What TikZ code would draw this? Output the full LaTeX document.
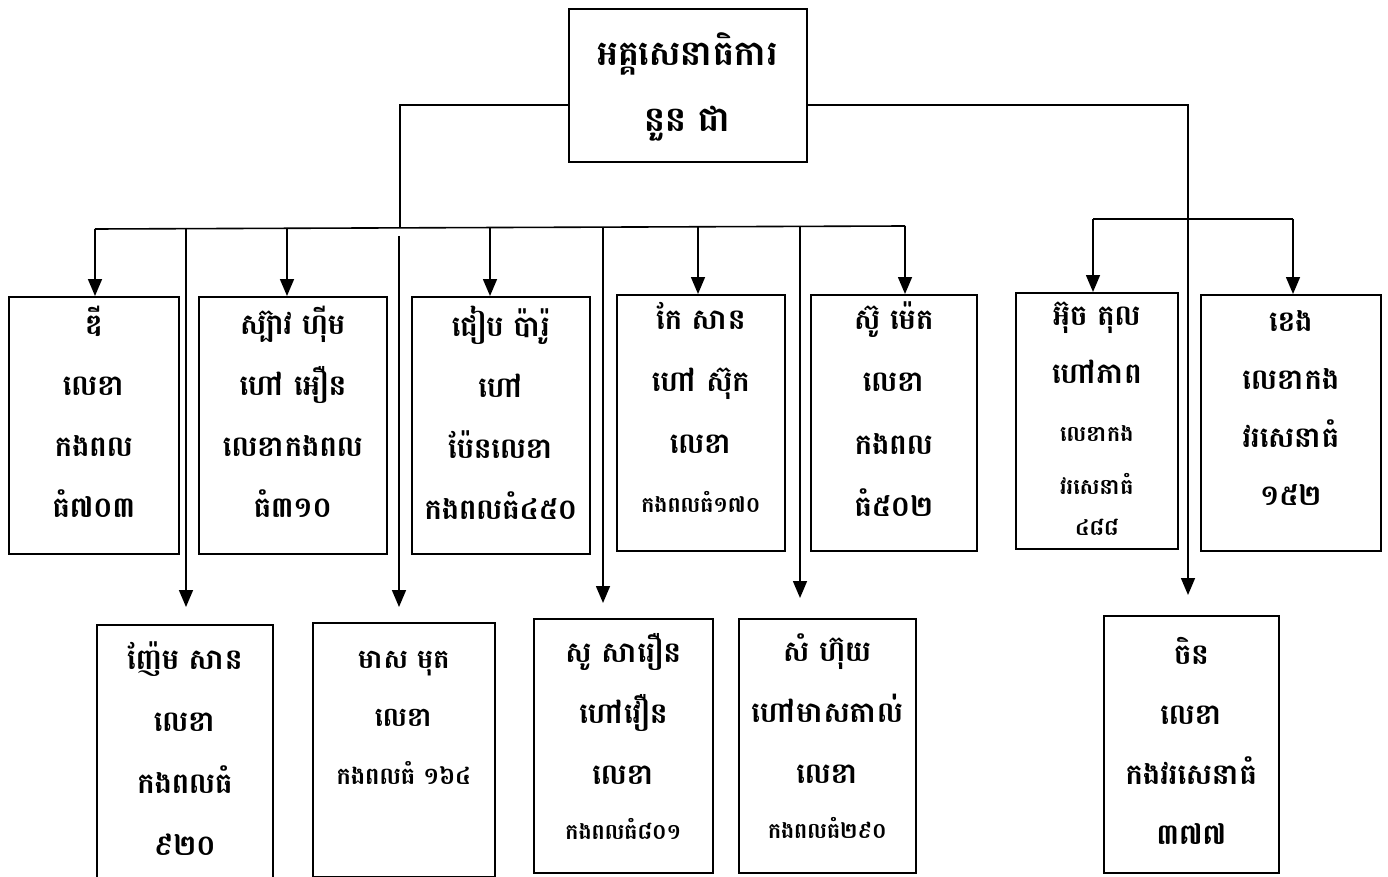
\documentclass[tikz,border=0pt]{standalone}
\usepackage{fontspec}
\newfontfamily\kh[Script=Khmer, BoldFont={Battambang Bold}]{Battambang}
\usetikzlibrary{arrows.meta}
\tikzset{
  x=1pt, y=1pt,
  box/.style={draw, line width=1.6pt, anchor=north west, inner sep=0pt},
  txt/.style={font=\kh\bfseries\fontsize{29}{61}\selectfont, align=center, inner sep=0pt, anchor=north},
  bigtxt/.style={font=\kh\bfseries\fontsize{35}{66}\selectfont, align=center, inner sep=0pt, anchor=north},
  ln/.style={line width=1.6pt},
  arr/.style={line width=1.6pt, -{Triangle[width=14pt,length=17pt]}},
}
\newcommand{\smk}{\fontsize{22}{61}\selectfont}
\begin{document}
\begin{tikzpicture}
\useasboundingbox (0,0) rectangle (1388,-877);
\fill[white] (0,0) rectangle (1388,-877);
% top
\node[box, minimum width=238pt, minimum height=153pt] (top) at (568,-8) {};
\node[bigtxt] (toptxt) at ([yshift=-25pt]top.north) {អគ្គសេនាធិការ\\នួន ជា};
% upper row
\node[box, minimum width=170pt, minimum height=257pt] (b1) at (8,-296) {};
\node[box, minimum width=188pt, minimum height=257pt] (b2) at (198,-296) {};
\node[box, minimum width=178pt, minimum height=257pt] (b3) at (411,-296) {};
\node[box, minimum width=168pt, minimum height=256pt] (b4) at (616,-294) {};
\node[box, minimum width=166pt, minimum height=256pt] (b5) at (810,-294) {};
\node[box, minimum width=162pt, minimum height=256pt] (b6) at (1015,-292) {};
\node[box, minimum width=180pt, minimum height=256pt] (b7) at (1200,-294) {};
% lower row
\node[box, minimum width=176pt, minimum height=253pt] (l1) at (96,-624) {};
\node[box, minimum width=182pt, minimum height=254pt] (l2) at (312,-622) {};
\node[box, minimum width=179pt, minimum height=254pt] (l3) at (533,-618) {};
\node[box, minimum width=177pt, minimum height=254pt] (l4) at (738,-618) {};
\node[box, minimum width=175pt, minimum height=257pt] (l5) at (1103,-615) {};
% texts
\node[txt] (t1) at ([yshift=-10pt]b1.north) {ឌី\\លេខា\\កងពល\\ធំ៧០៣};
\node[txt] (t2) at ([yshift=-10pt]b2.north) {ស្ប៊ាវ ហ៊ីម\\ហៅ អឿន\\លេខាកងពល\\ធំ៣១០};
\node[txt] (t3) at ([yshift=-10pt]b3.north) {ជៀប ប៉ារ៉ូ\\ហៅ\\ប៉ែនលេខា\\កងពលធំ៤៥០};
\node[txt, font=\kh\bfseries\fontsize{29}{62}\selectfont] (t4) at ([yshift=-8pt]b4.north) {កែ សាន\\ហៅ ស៊ុក\\លេខា\\[-3pt]{\smk កងពលធំ១៧០}};
\node[txt, font=\kh\bfseries\fontsize{29}{62}\selectfont] (t5) at ([yshift=-8pt]b5.north) {ស៊ូ ម៉េត\\លេខា\\កងពល\\ធំ៥០២};
\node[txt, font=\kh\bfseries\fontsize{29}{58}\selectfont] (t6) at ([yshift=-10pt]b6.north) {អ៊ុច តុល\\ហៅភាព\\{\smk លេខាកង}\\[-5pt]{\smk វរសេនាធំ}\\[-17pt]{\smk ៤៨៨}};
\node[txt, font=\kh\bfseries\fontsize{29}{58}\selectfont] (t7) at ([yshift=-16pt]b7.north) {ខេង\\លេខាកង\\វរសេនាធំ\\១៥២};
\node[txt, font=\kh\bfseries\fontsize{29}{62}\selectfont] (u1) at ([yshift=-17pt]l1.north) {ញ៉ែម សាន\\លេខា\\កងពលធំ\\៩២០};
\node[txt, font=\kh\bfseries\fontsize{27}{58}\selectfont] (u2) at ([yshift=-29pt]l2.north) {មាស មុត\\លេខា\\{\fontsize{24}{58}\selectfont កងពលធំ ១៦៤}};
\node[txt, font=\kh\bfseries\fontsize{29}{61}\selectfont] (u3) at ([yshift=-15pt]l3.north) {សូ សារឿន\\ហៅវឿន\\លេខា\\[-6pt]{\smk កងពលធំ៨០១}};
\node[txt, font=\kh\bfseries\fontsize{29}{61}\selectfont] (u4) at ([yshift=-15pt]l4.north) {សំ ហ៊ុយ\\ហៅមាសតាល់\\លេខា\\[-6pt]{\smk កងពលធំ២៩០}};
\node[txt, font=\kh\bfseries\fontsize{29}{60}\selectfont] (u5) at ([yshift=-22pt]l5.north) {ចិន\\លេខា\\កងវរសេនាធំ\\៣៧៧};
% junction coordinates
\coordinate (lev) at (0,-105);
\coordinate (jL) at (400,-228);
\coordinate (jR) at (1188,-219);
\coordinate (bA) at (95,-229);
\coordinate (bB) at (905,-226);
\coordinate (a1) at (95,-229);
\coordinate (a2) at (287,-228);
\coordinate (a3) at (490,-228);
\coordinate (a4) at (698,-227);
\coordinate (a5) at (905,-226);
\coordinate (c1) at (186,-228);
\coordinate (c2) at (399,-236);
\coordinate (c3) at (603,-227);
\coordinate (c4) at (800,-226);
\coordinate (r1) at (1093,-219);
\coordinate (r2) at (1293,-219);
% connectors
\draw[ln] (top.west |- lev) -| (jL);
\draw[ln] (bA) -- (bB);
\draw[arr] (a1) -- (a1 |- b1.north);
\draw[arr] (a2) -- (a2 |- b2.north);
\draw[arr] (a3) -- (a3 |- b3.north);
\draw[arr] (a4) -- (a4 |- b4.north);
\draw[arr] (a5) -- (a5 |- b5.north);
\draw[arr] (c1) -- ([yshift=17pt]c1 |- l1.north);
\draw[arr] (c2) -- ([yshift=15pt]c2 |- l2.north);
\draw[arr] (c3) -- ([yshift=15pt]c3 |- l3.north);
\draw[arr] (c4) -- ([yshift=20pt]c4 |- l4.north);
\draw[ln] (top.east |- lev) -| (jR);
\draw[arr] (jR) -- ([yshift=20pt]jR |- l5.north);
\draw[ln] (r1) -- (r2);
\draw[arr] (r1) -- (r1 |- b6.north);
\draw[arr] (r2) -- (r2 |- b7.north);
\end{tikzpicture}
\end{document}
